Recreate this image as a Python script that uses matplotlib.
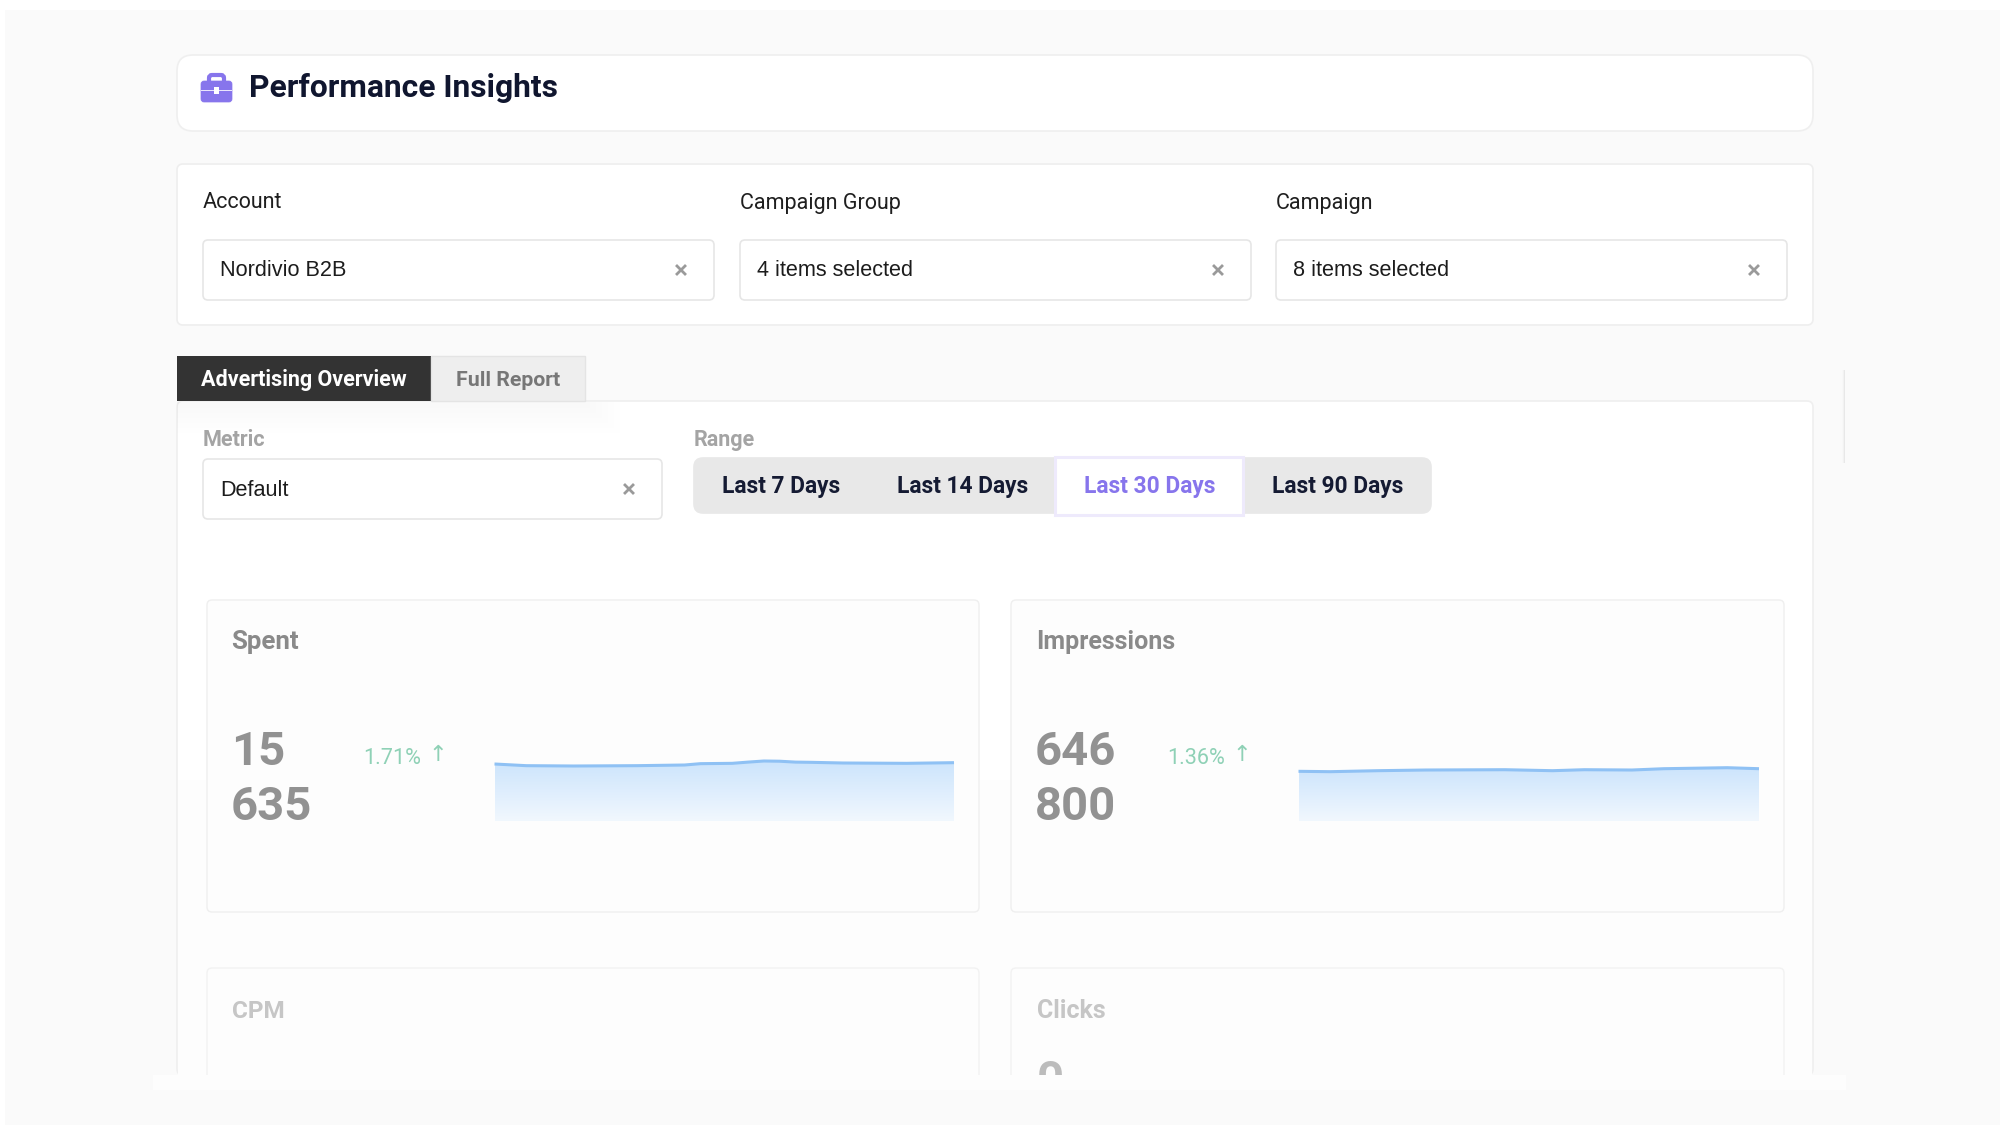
import numpy as np
import matplotlib
matplotlib.use('Agg')
import matplotlib.pyplot as plt
from matplotlib.patches import FancyBboxPatch, Rectangle

# text of the dashboard
title = 'Performance Insights'
filter_labels = ['Account', 'Campaign Group', 'Campaign']
filter_values = ['Nordivio B2B', '4 items selected', '8 items selected']
tab_labels = ['Advertising Overview', 'Full Report']
range_labels = ['Last 7 Days', 'Last 14 Days', 'Last 30 Days', 'Last 90 Days']

# sparkline values (day of the 30 day range, value per day)
spent_days = [0, 2, 5, 9, 12, 13, 15, 16, 17, 18, 19, 20, 22, 26, 29]
spent_values = [513, 498, 495, 498, 504, 516, 519, 530, 540, 538, 530, 528, 522, 519, 525]
impressions_days = [0, 2, 5, 8, 13, 16, 18, 21, 23, 27, 29]
impressions_values = [21020, 20860, 21280, 21570, 21700, 21280, 21700, 21570, 22120, 22550, 22120]

PURPLE = '#8775ec'
NAVY = '#151b33'

fig = plt.figure(figsize=(20, 11.28), dpi=100, facecolor='white')
ax = fig.add_axes([0, 0, 1, 1])
ax.set_xlim(0, 2000)
ax.set_ylim(1128, 0)
ax.axis('off')


def box(x0, y0, x1, y1, face='white', edge='#eeeeee', r=4, lw=1.2, z=1):
    p = FancyBboxPatch((x0 + r, y0 + r), x1 - x0 - 2 * r, y1 - y0 - 2 * r,
                       boxstyle='round,pad=%d,rounding_size=%d' % (r, r),
                       fc=face, ec=edge, lw=lw, zorder=z)
    ax.add_patch(p)


def rect(x0, y0, x1, y1, color, z=1, alpha=None):
    ax.add_patch(Rectangle((x0, y0), x1 - x0, y1 - y0, fc=color, ec='none', zorder=z, alpha=alpha))


def label(x, y, s, size=15.5, color='#222222', weight='normal', family='Roboto', ha='left', z=6):
    ax.text(x, y + 3, s, fontsize=size, color=color, fontweight=weight, family=family,
            ha=ha, va='center', zorder=z)


def clear_mark(x, y):
    ax.plot([x - 4, x + 4], [y - 4, y + 4], color='#9a9a9a', lw=2, zorder=6)
    ax.plot([x - 4, x + 4], [y + 4, y - 4], color='#9a9a9a', lw=2, zorder=6)


def select_box(x0, y0, x1, y1, s):
    box(x0, y0, x1, y1, edge='#e6e6e6', r=5, lw=1.2, z=3)
    label(x0 + 17, (y0 + y1) / 2 - 2, s, size=15.6, color='#1c1c1c', family='Liberation Sans')
    clear_mark(x1 - 33, (y0 + y1) / 2)


def sparkline(x0, x1, days, values, top):
    # pixel box of the little chart, baseline at y=821
    a = fig.add_axes([x0 / 2000, 1 - 821 / 1128, (x1 - x0) / 2000, 81 / 1128], zorder=5)
    a.set_xlim(0, 29)
    a.set_ylim(0, top)
    a.axis('off')
    a.patch.set_alpha(0)
    fill = a.fill_between(days, values, 0, color='none', lw=0)
    t = np.linspace(0, 1, 64)[:, None, None]
    colors = np.array([0.80, 0.895, 0.99]) * (1 - t) + np.array([0.945, 0.97, 0.995]) * t
    peak = max(values)
    im = a.imshow(colors, extent=(0, 29, 0, peak), aspect='auto', origin='upper')
    a.set_xlim(0, 29)
    a.set_ylim(0, top)
    im.set_clip_path(fill.get_paths()[0], transform=a.transData)
    a.plot(days, values, color='#8fc1f4', lw=2.2, solid_capstyle='butt', clip_on=False)


# page background with the thin white margin of the screenshot
rect(5, 10, 2000, 1125, '#fafafa', z=0)

# header
box(177, 55, 1813, 131, r=16, edge='#efefef')
box(201, 81, 232, 102, face=PURPLE, edge=PURPLE, r=3, lw=0.5, z=3)
rect(201, 89.5, 232, 91, '#e9e5fc', z=4)
rect(214, 87, 219, 93.5, 'white', z=4)
box(209, 75, 224, 84, face='none', edge=PURPLE, r=3, lw=3, z=3)
label(249, 85, title, size=22.9, color='#10162f', weight='bold')

# filters
box(177, 164, 1813, 325, r=6, edge='#eeeeee')
for i, x0 in enumerate([203, 740, 1276]):
    label(x0, 200, filter_labels[i], color='#1f1f1f')
    select_box(x0, 240, x0 + 511, 300, filter_values[i])

# report panel and its tabs
box(177, 401, 1813, 1075, r=6, edge='#efefef', z=1)
rect(178, 780, 1812, 1075, '#fdfdfd', z=1)
for i in range(6):
    rect(177, 402, 590 + i * 6, 408 + i * 5, '#000000', z=1, alpha=0.004)
for i, c in enumerate(['#f8f8f8', '#f2f2f2', '#e8e8e8']):
    rect(1842 + i, 370, 1843 + i, 463, c, z=1)
rect(177, 356, 431, 401, '#333333', z=3)
ax.add_patch(Rectangle((431, 356), 154, 45, fc='#eeeeee', ec='#e4e4e4', lw=1, zorder=3))
label(304, 377, tab_labels[0], size=15.5, color='white', weight='bold', ha='center')
label(508, 377, tab_labels[1], size=15.3, color='#777777', weight='bold', ha='center')

# metric select
label(203, 437, 'Metric', color='#a4a4a4', weight='bold')
select_box(203, 459, 662, 519, 'Default')

# range buttons
label(694, 437, 'Range', color='#a4a4a4', weight='bold')
box(694, 458, 1431, 513, face='#e8e8e8', edge='#e8e8e8', r=9, z=2)
rect(1055, 457, 1243, 514, 'white', z=3)
ax.add_patch(Rectangle((1055, 457), 188, 58, fc='none', ec='#eeeafc', lw=2.2, zorder=4))
for s, cx in zip(range_labels, [781, 963, 1150, 1338]):
    label(cx, 483, s, size=16.4, color=PURPLE if s == 'Last 30 Days' else NAVY, weight='bold', ha='center')

# metric cards, first row
for x0, x1, name, size, num, delta in [(207, 979, 'Spent', 18.6, '15\n635', '1.71%'),
                                       (1011, 1784, 'Impressions', 18, '646\n800', '1.36%')]:
    box(x0, 600, x1, 912, face='#fdfdfd', edge='#efefef', r=5, lw=1, z=2)
    label(x0 + 25 if name != 'Spent' else x0 + 24, 639, name, size=size, color='#8a8a8a', weight='bold')
    ax.text(x0 + 24, 752, num.split('\n')[0], fontsize=34, color='#929292', fontweight='bold',
            family='Roboto', va='center', zorder=6)
    ax.text(x0 + 24, 807, num.split('\n')[1], fontsize=34, color='#929292', fontweight='bold',
            family='Roboto', va='center', zorder=6)
    label(x0 + 156, 756, delta, size=15.6, color='#8fd1b6')
    label(x0 + 231, 752, '\u2191', size=16, color='#8fd1b6', family='DejaVu Sans', ha='center')

sparkline(494.5, 954, spent_days, spent_values, 729)
sparkline(1298.5, 1759, impressions_days, impressions_values, 34263)

# second row, cut off by the bottom band
box(207, 968, 979, 1200, face='#fdfdfd', edge='#f2f2f2', r=5, lw=1, z=2)
box(1011, 968, 1784, 1200, face='#fdfdfd', edge='#f2f2f2', r=5, lw=1, z=2)
label(232, 1008, 'CPM', size=17.5, color='#c6c6c6', weight='bold')
label(1037, 1008, 'Clicks', size=18, color='#c6c6c6', weight='bold')
label(1037, 1078, '0', size=34, color='#bcbcbc', weight='bold')
rect(153, 1075, 1846, 1090, '#fdfdfd', z=7)
rect(5, 1090, 2000, 1125, '#fafafa', z=7)
rect(0, 1125, 2000, 1128, 'white', z=7)

fig.savefig('out.png', dpi=100)
